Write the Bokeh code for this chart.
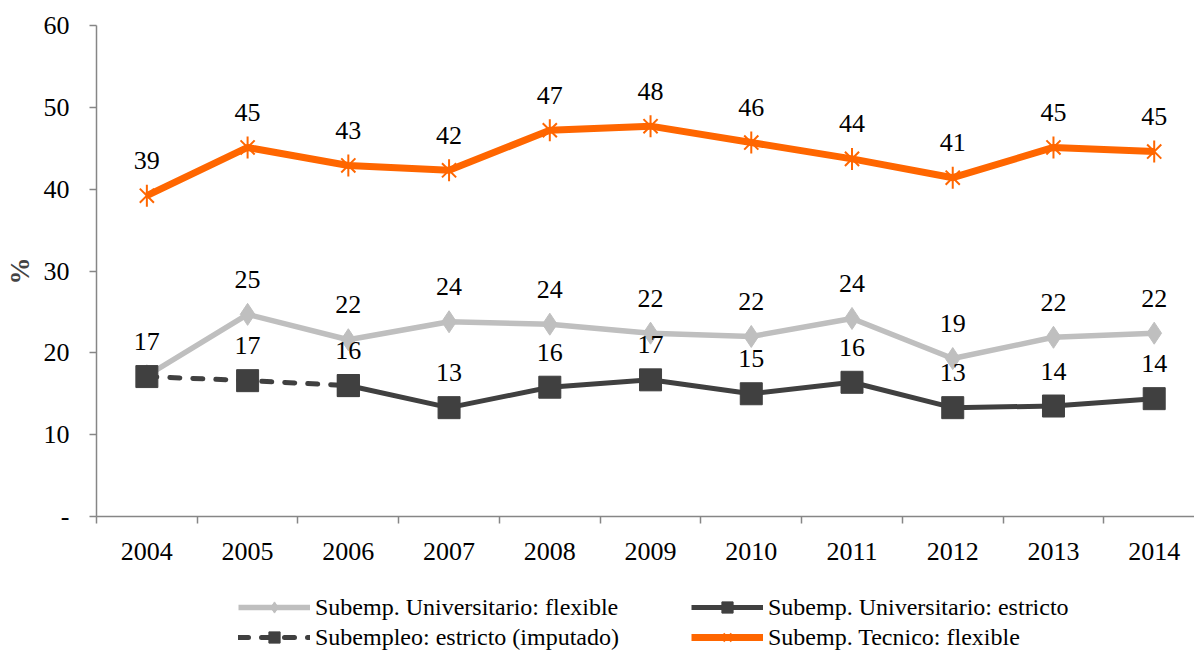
import math
from bokeh.plotting import figure
from bokeh.layouts import column
from bokeh.models import (Range1d, FixedTicker, Legend, LegendItem, ColumnDataSource, LinearAxis)
from bokeh.embed import file_html
from bokeh.resources import INLINE
from bokeh.core.properties import value

years = [2004, 2005, 2006, 2007, 2008, 2009, 2010, 2011, 2012, 2013, 2014]
tecnico_flexible = [39.2, 45.1, 42.9, 42.3, 47.2, 47.7, 45.7, 43.7, 41.4, 45.1, 44.6]
univ_flexible = [17.2, 24.7, 21.6, 23.8, 23.5, 22.4, 22.0, 24.2, 19.3, 21.9, 22.4]
univ_estricto_years = [2006, 2007, 2008, 2009, 2010, 2011, 2012, 2013, 2014]
univ_estricto = [16.0, 13.3, 15.8, 16.7, 15.0, 16.4, 13.3, 13.5, 14.4]
imputado_years = [2004, 2005, 2006]
imputado = [17.1, 16.6, 16.0]
series_names = ["Subemp. Universitario: flexible", "Subemp. Universitario: estricto",
                "Subempleo: estricto (imputado)", "Subemp. Tecnico: flexible"]

FONT = "Liberation Serif"
ORANGE = "#FF6600"
LGRAY = "#BFBFBF"
DGRAY = "#404040"
AXIS = "#868686"

p = figure(frame_width=1098, frame_height=491, min_border_left=96, min_border_top=25,
           min_border_right=0, min_border_bottom=60,
           output_backend="svg", toolbar_location=None,
           x_range=Range1d(2003.5, 2014.4), y_range=Range1d(0, 60),
           x_axis_type=None, y_axis_type=None)
p.outline_line_color = None
p.xgrid.visible = False
p.ygrid.visible = False

# axes
xaxis = LinearAxis(ticker=FixedTicker(ticks=years, minor_ticks=[y - 0.5 for y in years] + [years[-1] + 0.5]))
xaxis.major_tick_out = 0
xaxis.major_tick_in = 0
xaxis.minor_tick_out = 7
xaxis.minor_tick_in = 0
xaxis.minor_tick_line_color = AXIS
xaxis.minor_tick_line_width = 1.5
xaxis.axis_line_color = AXIS
xaxis.axis_line_width = 1.5
xaxis.major_label_text_font = FONT
xaxis.major_label_text_font_size = "26px"
xaxis.major_label_text_color = "#000000"
xaxis.major_label_standoff = 19
p.add_layout(xaxis, "below")

yaxis = LinearAxis(ticker=FixedTicker(ticks=[0, 10, 20, 30, 40, 50, 60]))
yaxis.major_label_overrides = {0: "-"}
yaxis.major_tick_out = 7
yaxis.major_tick_in = 0
yaxis.minor_tick_line_color = None
yaxis.major_tick_line_color = AXIS
yaxis.major_tick_line_width = 1.5
yaxis.axis_line_color = AXIS
yaxis.axis_line_width = 1.5
yaxis.major_label_text_font = FONT
yaxis.major_label_text_font_size = "26px"
yaxis.major_label_text_color = "#000000"
yaxis.major_label_standoff = 20
yaxis.axis_label = "%"
yaxis.axis_label_text_font = FONT
yaxis.axis_label_text_font_style = "bold"
yaxis.axis_label_text_font_size = "27px"
yaxis.axis_label_standoff = 6
p.add_layout(yaxis, "left")

XS = [years, imputado_years, univ_estricto_years, years]
YS = [univ_flexible, imputado, univ_estricto, tecnico_flexible]


def draw(fig, msize):
    r = {}
    r["flex"] = [fig.line(XS[0], YS[0], line_color=LGRAY, line_width=5.5),
                 fig.scatter(XS[0], YS[0], marker="diamond", size=msize, fill_color=LGRAY, line_color=LGRAY)]
    r["imp"] = [fig.line(XS[1], YS[1], line_color=DGRAY, line_width=5, line_dash="10 13", line_cap="round"),
                fig.scatter(XS[1], YS[1], marker="square", size=msize, fill_color=DGRAY, line_color=DGRAY)]
    r["est"] = [fig.line(XS[2], YS[2], line_color=DGRAY, line_width=5),
                fig.scatter(XS[2], YS[2], marker="square", size=msize, fill_color=DGRAY, line_color=DGRAY)]
    r["tec"] = [fig.line(XS[3], YS[3], line_color=ORANGE, line_width=7),
                fig.scatter(XS[3], YS[3], marker="x", size=msize - 2, line_color=ORANGE, line_width=2),
                fig.scatter(XS[3], YS[3], marker="dash", size=msize, angle=math.pi / 2,
                            line_color=ORANGE, line_width=2)]
    return r


draw(p, 22)


# data labels
def labels(xs, ys):
    src = ColumnDataSource(dict(x=xs, y=ys, t=[str(int(round(v))) for v in ys]))
    p.text(x="x", y="y", text="t", source=src, text_font=value(FONT), text_font_size="26px",
           text_color="#000000", text_align="center", text_baseline="middle", y_offset=-35)

labels(years, tecnico_flexible)
labels(years[1:], univ_flexible[1:])
labels(imputado_years[:2], imputado[:2])
labels(univ_estricto_years, univ_estricto)

# legend strip (separate figure so that it is not clipped); its series lie outside its ranges
p2 = figure(width=1194, height=76, min_border=0, output_backend="svg", toolbar_location=None,
            x_range=Range1d(0, 1), y_range=Range1d(0, 1), x_axis_type=None, y_axis_type=None)
p2.outline_line_color = None
p2.xgrid.visible = False
p2.ygrid.visible = False
lr = draw(p2, 18)

legend = Legend(items=[
    LegendItem(label=series_names[0], renderers=lr["flex"]),
    LegendItem(label=series_names[2], renderers=lr["imp"]),
    LegendItem(label=series_names[1], renderers=lr["est"]),
    LegendItem(label=series_names[3], renderers=lr["tec"]),
], ncols=2, location=(142, 1))
legend.label_text_font = FONT
legend.label_text_font_size = "24px"
legend.label_text_color = "#000000"
legend.glyph_width = 72
legend.glyph_height = 28
legend.label_height = 28
legend.label_width = 374
legend.label_standoff = 5
legend.spacing = 2
legend.padding = 0
legend.margin = 0
legend.border_line_color = None
legend.background_fill_alpha = 0
p2.add_layout(legend)

layout = column(p, p2, spacing=0)
open("out.html", "w").write(file_html(layout, INLINE))
